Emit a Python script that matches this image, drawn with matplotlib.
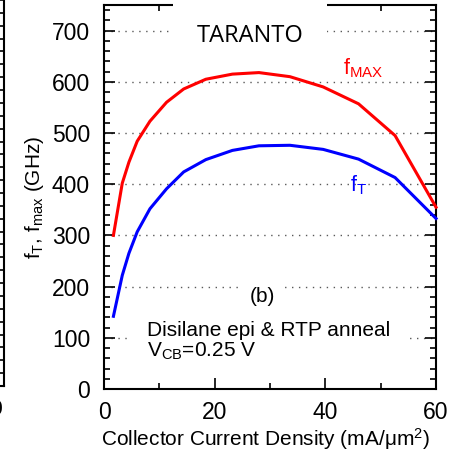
import matplotlib
matplotlib.use("Agg")
import matplotlib.pyplot as plt
from matplotlib.ticker import MultipleLocator

plt.rcParams['font.family'] = ['Liberation Sans', 'DejaVu Sans']
plt.rcParams['mathtext.fontset'] = 'custom'
plt.rcParams['mathtext.rm'] = 'Liberation Sans'
plt.rcParams['mathtext.it'] = 'Liberation Sans:italic'
plt.rcParams['mathtext.bf'] = 'Liberation Sans:bold'

# collector current density (mA/um^2)
jc = [1.7, 3.3, 4.5, 6.0, 8.3, 11.3, 14.4, 18.4, 23.2, 28.0, 33.6, 39.6, 46.0, 52.6, 60.0]
# fMAX and fT (GHz)
fmax = [300, 402, 443, 484, 523, 560, 586, 605, 615, 618, 610, 590, 557, 495, 355]
ft = [142, 222, 265, 307, 352, 391, 424, 448, 466, 475, 476, 468, 449, 413, 333]

fig = plt.figure(figsize=(4.58, 4.51), dpi=100)

# neighbouring panel cut off at the left edge
ax0 = fig.add_axes([-0.5, 0.1441, 0.5087, 0.8559])
ax0.set_xlim(0, 60)
ax0.set_ylim(0, 30)
for s in ['left', 'top']:
    ax0.spines[s].set_visible(False)
for s in ['right', 'bottom']:
    ax0.spines[s].set_linewidth(1.5)
ax0.yaxis.tick_right()
ax0.set_yticks(range(0, 31))
ax0.tick_params(axis='y', direction='in', length=4, width=1.2, labelright=False)
ax0.set_xticks([60])
ax0.set_xticklabels(['60'], fontsize=16, ha='right')
ax0.tick_params(axis='x', direction='in', length=0, pad=9)

ax = fig.add_axes([0.2271, 0.1375, 0.7249, 0.8514])
ax.plot(jc, fmax, color='#ff0000', lw=2.2, zorder=4, clip_on=False)
ax.plot(jc, ft, color='#0000ff', lw=2.2, zorder=4, clip_on=False)

ax.set_xlim(0, 60)
ax.set_ylim(0, 750)
ax.xaxis.set_major_locator(MultipleLocator(20))
ax.xaxis.set_minor_locator(MultipleLocator(10))
ax.yaxis.set_major_locator(MultipleLocator(100))
ax.yaxis.set_minor_locator(MultipleLocator(20))
ax.set_yticks(range(0, 701, 100))
ax.tick_params(which='both', direction='in', top=True, right=True, labelsize=16.5, width=1.2)
ax.tick_params(which='major', length=8, pad=10)
ax.tick_params(axis='x', which='major', pad=9)
ax.tick_params(which='minor', length=4.5)
for s in ax.spines.values():
    s.set_linewidth(1.5)

ax.set_axisbelow(True)
ax.grid(axis='y', which='major', color='0.35', lw=1.0, linestyle=(0, (1, 4)))

ax.set_xlabel('Collector Current Density (mA/μm$^2$)', fontsize=15, labelpad=1)
ax.xaxis.label.set_x(0.485)
ax.set_ylabel('f$_{\\rm T}$, f$_{\\rm max}$ (GHz)', fontsize=15, labelpad=4)

ax.text(26.4, 690, 'TARANTO', fontsize=17, family='Open Sans', ha='center', va='center',
        bbox=dict(boxstyle='square,pad=1.0', facecolor='white', edgecolor='none'))
ax.text(28.6, 180, '(b)', fontsize=15, ha='center', va='center', zorder=5,
        bbox=dict(boxstyle='square,pad=0.45', facecolor='white', edgecolor='none'))
ax.text(7.7, 103, 'Disilane epi & RTP anneal', fontsize=15, ha='left', va='baseline',
        bbox=dict(boxstyle='square,pad=0.9', facecolor='white', edgecolor='none'))
ax.text(7.7, 63, 'V$_{\\rm CB}$=0.25 V', fontsize=15, ha='left', va='baseline')

ax.text(43.2, 615, 'f$_{\\rm MAX}$', color='#ff0000', fontsize=15.5, ha='left', va='baseline')
ax.text(44.5, 385, 'f$_{\\rm T}$', color='#0000ff', fontsize=15.5, ha='left', va='baseline')

fig.savefig('out.png', dpi=100)
